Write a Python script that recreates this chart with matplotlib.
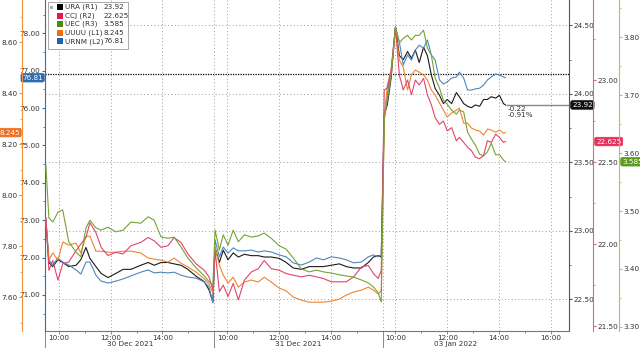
import matplotlib
matplotlib.use("Agg")
import matplotlib.pyplot as plt
from matplotlib.ticker import MultipleLocator, FormatStrFormatter, FixedLocator
from matplotlib.patches import Rectangle
import matplotlib.transforms as mtransforms

plt.rcParams['font.family'] = ['DejaVu Sans']

# sessions shown on the time axis
days = ["30 Dec 2021", "31 Dec 2021", "03 Jan 2022"]
times_d1 = ["09:30", "09:37", "09:46", "09:58", "10:09", "10:23", "10:40", "10:51", "11:03", "11:12",
            "11:26", "11:38", "11:54", "12:12", "12:29", "12:47", "13:10", "13:27", "13:41", "13:57",
            "14:13", "14:27", "14:43", "14:59", "15:18", "15:37", "15:48", "15:57"]
times_d2 = ["09:32", "09:42", "09:51", "10:02", "10:14", "10:26", "10:40", "10:56", "11:12", "11:26",
            "11:42", "12:01", "12:17", "12:33", "12:52", "13:10", "13:27", "13:43", "14:01", "14:20",
            "14:36", "14:53", "15:11", "15:27", "15:39", "15:50", "15:57"]
times_d3 = ["09:34", "09:41", "09:50", "10:00", "10:09", "10:18", "10:28", "10:37", "10:46", "10:55",
            "11:05", "11:14", "11:23", "11:32", "11:42", "11:51", "12:00", "12:10", "12:21", "12:28",
            "12:38", "12:47", "12:56", "13:05", "13:15", "13:24", "13:33", "13:42", "13:52", "14:01",
            "14:10", "14:15"]

# prices (30 Dec | 31 Dec | 03 Jan)
ura = [23.08, 22.77, 22.74, 22.79, 22.77, 22.74, 22.75, 22.79, 22.88, 22.80, 22.74, 22.69, 22.66, 22.69,
       22.72, 22.72, 22.75, 22.77, 22.75, 22.77, 22.77, 22.76, 22.75, 22.72, 22.67, 22.63, 22.57, 22.48,
       22.88, 22.77, 22.86, 22.79, 22.84, 22.81, 22.83, 22.82, 22.82, 22.81, 22.81, 22.80, 22.77, 22.73,
       22.72, 22.74, 22.74, 22.74, 22.75, 22.76, 22.74, 22.73, 22.73, 22.77, 22.81, 22.82, 22.81,
       23.85, 23.92, 24.12, 24.49, 24.28, 24.25, 24.31, 24.26, 24.32, 24.23, 24.34, 24.28, 24.14, 24.04,
       23.99, 23.93, 23.96, 23.93, 24.01, 23.98, 23.93, 23.91, 23.90, 23.92, 23.91, 23.96, 23.96, 23.98,
       23.97, 23.99, 23.93, 23.92]
ccj = [22.16, 21.84, 21.90, 21.78, 21.88, 21.89, 21.96, 22.00, 22.04, 22.13, 22.07, 21.98, 21.93, 21.95,
       21.94, 21.99, 22.01, 22.04, 22.02, 21.98, 21.99, 22.04, 22.01, 21.94, 21.88, 21.84, 21.80, 21.72,
       21.96, 21.71, 21.75, 21.68, 21.76, 21.66, 21.78, 21.83, 21.85, 21.90, 21.85, 21.84, 21.82, 21.81,
       21.80, 21.81, 21.80, 21.79, 21.77, 21.77, 21.77, 21.80, 21.86, 21.87, 21.82, 21.79, 21.84,
       22.94, 22.95, 23.06, 23.32, 23.03, 22.94, 23.00, 22.91, 23.00, 22.97, 23.01, 22.91, 22.85, 22.77,
       22.73, 22.75, 22.69, 22.71, 22.63, 22.65, 22.62, 22.59, 22.57, 22.53, 22.52, 22.54, 22.63, 22.62,
       22.67, 22.65, 22.62, 22.625]
uec = [3.579, 3.488, 3.481, 3.498, 3.502, 3.447, 3.429, 3.421, 3.471, 3.484, 3.471, 3.467, 3.472, 3.464,
       3.467, 3.481, 3.479, 3.490, 3.484, 3.455, 3.453, 3.455, 3.438, 3.419, 3.402, 3.388, 3.378, 3.372,
       3.467, 3.433, 3.459, 3.441, 3.467, 3.447, 3.459, 3.455, 3.457, 3.462, 3.453, 3.440, 3.434, 3.419,
       3.400, 3.395, 3.398, 3.395, 3.393, 3.390, 3.388, 3.386, 3.381, 3.376, 3.369, 3.359, 3.343,
       3.657, 3.691, 3.734, 3.817, 3.790, 3.798, 3.803, 3.795, 3.803, 3.803, 3.812, 3.781, 3.769, 3.729,
       3.712, 3.691, 3.684, 3.674, 3.667, 3.674, 3.671, 3.636, 3.624, 3.614, 3.598, 3.595, 3.602, 3.617,
       3.597, 3.597, 3.588, 3.585]
uuuu = [7.910, 7.745, 7.773, 7.745, 7.816, 7.804, 7.812, 7.773, 7.839, 7.839, 7.780, 7.780, 7.776, 7.776,
        7.780, 7.780, 7.773, 7.753, 7.749, 7.745, 7.737, 7.753, 7.733, 7.718, 7.698, 7.671, 7.651, 7.616,
        7.796, 7.725, 7.686, 7.655, 7.678, 7.639, 7.659, 7.667, 7.659, 7.678, 7.659, 7.635, 7.624, 7.600,
        7.588, 7.580, 7.580, 7.580, 7.584, 7.592, 7.608, 7.620, 7.627, 7.639, 7.627, 7.612, 7.627,
        8.294, 8.431, 8.490, 8.659, 8.529, 8.502, 8.412, 8.471, 8.490, 8.482, 8.471, 8.451, 8.412, 8.392,
        8.361, 8.333, 8.306, 8.322, 8.333, 8.341, 8.282, 8.282, 8.263, 8.255, 8.251, 8.235, 8.259, 8.255,
        8.247, 8.255, 8.243, 8.245]
urnm = [73.01, 71.94, 71.80, 71.99, 71.88, 71.80, 71.67, 71.56, 71.88, 71.88, 71.53, 71.37, 71.32, 71.37,
        71.43, 71.51, 71.61, 71.67, 71.59, 71.61, 71.59, 71.61, 71.53, 71.48, 71.45, 71.35, 71.21, 70.79,
        72.47, 72.02, 72.28, 72.12, 72.26, 72.18, 72.18, 72.20, 72.15, 72.18, 72.15, 72.07, 72.02, 71.86,
        71.80, 71.88, 71.99, 71.94, 72.02, 71.99, 71.94, 71.86, 71.88, 72.02, 72.07, 72.02, 72.07,
        75.81, 76.35, 77.02, 78.17, 77.76, 77.15, 77.42, 77.28, 77.55, 77.68, 77.60, 77.82, 77.42, 77.28,
        76.75, 76.64, 76.70, 76.80, 76.83, 76.96, 76.80, 76.48, 76.48, 76.51, 76.53, 76.61, 76.75, 76.83,
        76.91, 76.88, 76.83, 76.81]

tickers = ["URA (R1)", "CCJ (R2)", "UEC (R3)", "UUUU (L1)", "URNM (L2)"]
ura_prev_close = 24.14
urnm_ref = 76.9

OPEN, SESSION = 9 * 60 + 30, 390


def to_x(day, hhmm):
    h, m = hhmm.split(":")
    return day * SESSION + int(h) * 60 + int(m) - OPEN


x = [to_x(d, t) for d, ts in enumerate([times_d1, times_d2, times_d3]) for t in ts]

# colours
c_ura, c_ccj, c_uec, c_uuuu, c_urnm = "#1a1a1a", "#e0456b", "#78a232", "#f08430", "#4f86bb"
s_ura, s_ccj, s_uec, s_uuuu, s_urnm = "#555555", "#e06680", "#a9c46a", "#f0903a", "#2f6fb5"
b_ura, b_ccj, b_uec, b_uuuu, b_urnm = "#111111", "#e8305a", "#5c9a20", "#f07020", "#2f6db0"
txt = "#333333"
FS = 5.2
PX = 0.72  # points per pixel at 100 dpi

W, H = 640, 348
fig = plt.figure(figsize=(W / 100, H / 100), dpi=100)
L, R, T, B = 45, 569, 0, 331
ax = fig.add_axes([L / W, 1 - B / H, (R - L) / W, (B - T) / H])

ax_urnm = ax.twinx()
ax_uuuu = ax.twinx()
ax_ccj = ax.twinx()
ax_uec = ax.twinx()

for a in [ax, ax_urnm, ax_uuuu, ax_ccj, ax_uec]:
    for s in a.spines.values():
        s.set_visible(False)
    a.patch.set_visible(False)

# URA (R1) on main axes, right side
ax.yaxis.tick_right()
ax.spines["right"].set_visible(True)
ax.spines["right"].set_color(s_ura)
ax.spines["bottom"].set_visible(True)
ax.spines["bottom"].set_color("#777777")
ax.set_ylim(22.27, 24.686)
ax.yaxis.set_major_locator(MultipleLocator(0.5))
ax.yaxis.set_minor_locator(MultipleLocator(0.25))

# URNM (L2)
ax_urnm.yaxis.tick_left()
ax_urnm.spines["left"].set_visible(True)
ax_urnm.spines["left"].set_color(s_urnm)
ax_urnm.set_ylim(70.037, 78.888)
ax_urnm.yaxis.set_major_locator(MultipleLocator(1))
ax_urnm.yaxis.set_minor_locator(MultipleLocator(0.5))

# UUUU (L1)
ax_uuuu.yaxis.tick_left()
ax_uuuu.spines["left"].set_visible(True)
ax_uuuu.spines["left"].set_position(("outward", 23 * PX))
ax_uuuu.spines["left"].set_color(s_uuuu)
ax_uuuu.set_ylim(7.467, 8.765)
ax_uuuu.yaxis.set_major_locator(MultipleLocator(0.2))
ax_uuuu.yaxis.set_minor_locator(MultipleLocator(0.1))

# CCJ (R2)
ax_ccj.spines["right"].set_visible(True)
ax_ccj.spines["right"].set_position(("outward", 24 * PX))
ax_ccj.spines["right"].set_color(s_ccj)
ax_ccj.set_ylim(21.47, 23.488)
ax_ccj.yaxis.set_major_locator(MultipleLocator(0.5))
ax_ccj.yaxis.set_minor_locator(MultipleLocator(0.25))

# UEC (R3)
ax_uec.spines["right"].set_visible(True)
ax_uec.spines["right"].set_position(("outward", 50 * PX))
ax_uec.spines["right"].set_color(s_uec)
ax_uec.set_ylim(3.293, 3.864)
ax_uec.yaxis.set_major_locator(MultipleLocator(0.1))
ax_uec.yaxis.set_minor_locator(MultipleLocator(0.05))

for a, sc in [(ax, s_ura), (ax_urnm, s_urnm), (ax_uuuu, s_uuuu), (ax_ccj, s_ccj), (ax_uec, s_uec)]:
    a.yaxis.set_major_formatter(FormatStrFormatter("%.2f"))
    a.tick_params(axis="y", which="major", length=2.5, width=0.8, color=sc,
                  labelsize=FS, labelcolor=txt, pad=1)
    a.tick_params(axis="y", which="minor", length=1.5, width=0.6, color=sc)

# time axis
xmin, xmax = -2, 1212
ax.set_xlim(xmin, xmax)
major_x = [to_x(d, h) for d in range(3) for h in ["10:00", "12:00", "14:00"]] + [to_x(2, "16:00")]
major_lab = ["10:00", "12:00", "14:00"] * 3 + ["16:00"]
minor_x = [to_x(d, h) for d in range(3) for h in ["11:00", "13:00", "15:00"]]
ax.xaxis.set_major_locator(FixedLocator(major_x))
ax.set_xticklabels(major_lab)
ax.xaxis.set_minor_locator(FixedLocator(minor_x))
ax.tick_params(axis="x", which="major", length=2, width=0.6, color="#777777",
               labelsize=FS, labelcolor=txt, pad=1)
ax.tick_params(axis="x", which="minor", length=1.5, width=0.6, color="#777777")

ax.grid(axis="x", which="major", ls=(0, (1, 2.5)), color="#9a9a9a", lw=0.7)
ax.grid(axis="y", which="major", ls=(0, (1, 2.5)), color="#9a9a9a", lw=0.7)
for d in range(1, 3):
    ax.axvline(d * SESSION, ls=(0, (1, 2.5)), color="#9a9a9a", lw=0.7)

# day separators + day labels under the axis
tr = mtransforms.blended_transform_factory(ax.transData, ax.transAxes)
for d in range(3):
    ax.plot([d * SESSION if d else xmin] * 2, [0, -0.06], transform=tr, color="#888888",
            lw=0.7, clip_on=False)
    ax.text(d * SESSION + (SESSION / 2 if d < 2 else 170), -0.04, days[d], transform=tr,
            ha="center", va="center", fontsize=FS, color=txt)

# series
ax_urnm.plot(x, urnm, color=c_urnm, lw=0.8, zorder=3)
ax_uuuu.plot(x, uuuu, color=c_uuuu, lw=0.8)
ax_ccj.plot(x, ccj, color=c_ccj, lw=0.8)
ax_uec.plot(x, uec, color=c_uec, lw=0.8)
ax.plot(x, ura, color=c_ura, lw=0.8, zorder=5)

# reference line and change annotation
ax_urnm.axhline(urnm_ref, color="black", ls=(0, (1, 1)), lw=0.9)
ax.hlines(ura[-1], x[-1], xmax, color="#888888", lw=1.0)
chg = ura[-1] - ura_prev_close
ax.annotate(f"{chg:.2f}\n{chg / ura_prev_close * 100:.2f}%", xy=(x[-1], ura[-1]),
            xytext=(2, -1), textcoords="offset pixels", ha="left", va="top",
            fontsize=FS, color=txt, linespacing=1.1)


# last value badges
def badge(a, v, color, dx, side):
    a.annotate(f"{v:g}", xy=(1 if side == "r" else 0, v), xycoords=a.get_yaxis_transform(),
               xytext=(dx, 0), textcoords="offset pixels",
               ha="left" if side == "r" else "right", va="center", fontsize=FS, color="white",
               bbox=dict(boxstyle="round,pad=0.18,rounding_size=0.25",
                         fc=color, ec=color, lw=0.5), annotation_clip=False, zorder=10)


badge(ax, ura[-1], b_ura, 3, "r")
badge(ax_ccj, ccj[-1], b_ccj, 27, "r")
badge(ax_uec, uec[-1], b_uec, 53, "r")
badge(ax_urnm, urnm[-1], b_urnm, -2, "l")
badge(ax_uuuu, uuuu[-1], b_uuuu, -25, "l")

# legend box
fig.patches.append(Rectangle((48 / W, 1 - 49 / H), 80 / W, 47 / H, transform=fig.transFigure,
                             fc="white", ec="#9a9a9a", lw=0.6, zorder=20))
fig.patches.append(Rectangle((50 / W, 1 - 9 / H), 3 / W, 3 / H, transform=fig.transFigure,
                             fc="#aaaaaa", ec="none", zorder=21))
sq_colors = ["#000000", "#e8174a", "#4b8a0c", "#f26b0f", "#1f63b0"]
last_vals = [ura[-1], ccj[-1], uec[-1], uuuu[-1], urnm[-1]]
for i, (name, col, v) in enumerate(zip(tickers, sq_colors, last_vals)):
    yc = 7 + i * 8.6
    fig.patches.append(Rectangle((57 / W, 1 - (yc + 3) / H), 6 / W, 6 / H,
                                 transform=fig.transFigure, fc=col, ec="none", zorder=21))
    fig.text(65 / W, 1 - yc / H, name, fontsize=FS, color=txt, va="center", ha="left", zorder=22)
    fig.text(103 / W, 1 - yc / H, f"{v:g}", fontsize=FS, color=txt, va="center", ha="left", zorder=22)

fig.savefig("out.png", dpi=100)
